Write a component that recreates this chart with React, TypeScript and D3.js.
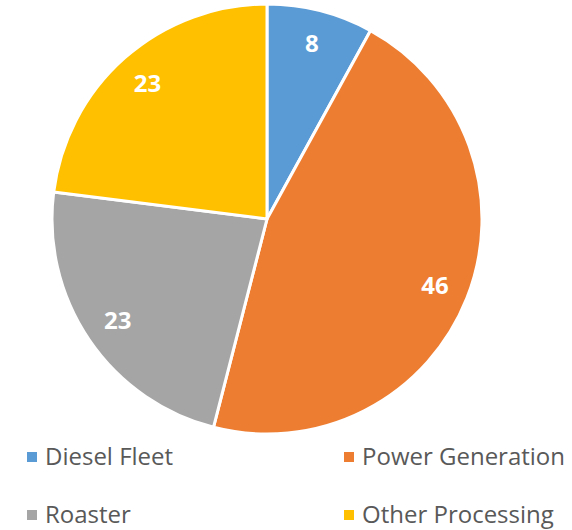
import React from "react";
import * as d3 from "d3";

const categories = ["Diesel Fleet", "Power Generation", "Roaster", "Other Processing"];
const values = [8, 46, 23, 23];
const colors = ["#5B9BD5", "#ED7D31", "#A5A5A5", "#FFC000"];

const W = 572, H = 530;
const cx = 267, cy = 219, R = 215;

export default function App() {
  const pie = d3.pie<number>().sort(null).value((d) => d);
  const arcs = pie(values);
  const arc = d3.arc<d3.PieArcDatum<number>>().innerRadius(0).outerRadius(R);
  const labelArc = d3.arc<d3.PieArcDatum<number>>().innerRadius(R * 0.84).outerRadius(R * 0.84);
  const legendPos = [
    { x: 27, y: 457 },
    { x: 344, y: 457 },
    { x: 27, y: 515 },
    { x: 344, y: 515 },
  ];
  const font = "'Open Sans', 'DejaVu Sans', sans-serif";
  return (
    <svg width={W} height={H} style={{ position: "absolute", left: 0, top: 0 }}>
      <rect width={W} height={H} fill="#fff" />
      <g transform={`translate(${cx},${cy})`}>
        {arcs.map((a, i) => (
          <path key={i} d={arc(a) || ""} fill={colors[i]} stroke="#fff" strokeWidth={3} strokeLinejoin="round" />
        ))}
        {arcs.map((a, i) => {
          const [x, y] = labelArc.centroid(a);
          return (
            <text key={i} x={x} y={y} dy="0.35em" textAnchor="middle" fill="#fff"
              fontFamily={font} fontWeight="bold" fontSize={24}>
              {values[i]}
            </text>
          );
        })}
      </g>
      {categories.map((c, i) => (
        <g key={c} transform={`translate(${legendPos[i].x},${legendPos[i].y})`}>
          <rect x={0} y={-5} width={10} height={10} fill={colors[i]} />
          <text x={18} y={0} dy="0.35em" fill="#595959" fontFamily={font} fontSize={24}>
            {c}
          </text>
        </g>
      ))}
    </svg>
  );
}
